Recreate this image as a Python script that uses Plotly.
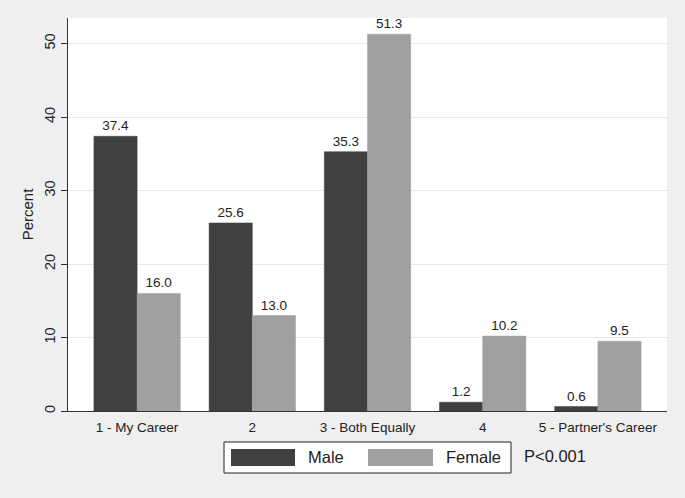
import plotly.graph_objects as go

categories = ["1 - My Career", "2", "3 - Both Equally", "4", "5 - Partner's Career"]
male = [37.4, 25.6, 35.3, 1.2, 0.6]
female = [16.0, 13.0, 51.3, 10.2, 9.5]
series_names = ["Male", "Female"]
colors = ["#404040", "#a0a0a0"]
y_ticks = [0, 10, 20, 30, 40, 50]

fig = go.Figure()
for name, vals, col in zip(series_names, [male, female], colors):
    fig.add_trace(go.Bar(
        x=categories, y=vals, name=name,
        marker=dict(color=col, line=dict(color=col, width=0.5)),
        text=[f"{v:.1f}" for v in vals], textposition="outside",
        textfont=dict(size=13.5, color="#222222"), cliponaxis=False,
        showlegend=False,
    ))

fig.update_layout(
    width=685, height=498,
    margin=dict(l=68, r=18, t=18, b=87),
    paper_bgcolor="#efefef", plot_bgcolor="#ffffff",
    barmode="group", bargap=0.25, bargroupgap=0,
    font=dict(family="Liberation Sans, Arial, sans-serif", size=13, color="#222222"),
)
fig.update_xaxes(
    range=[-0.6, 4.6], showgrid=False, showline=True, linecolor="#333333", linewidth=1.2,
    ticks="", tickfont=dict(size=13.5), zeroline=False, ticklabelstandoff=4,
)
fig.update_yaxes(
    range=[0, 53.5], tickvals=y_ticks, showgrid=True, gridcolor="#e6e6e6", gridwidth=1,
    showline=True, linecolor="#333333", linewidth=1.2, ticks="outside", ticklen=6,
    tickcolor="#333333", tickangle=-90, tickfont=dict(size=14.5), zeroline=False,
    title=dict(text="Percent", font=dict(size=15), standoff=4),
)

# Manual legend (wide swatches in a box) and p-value note
fig.add_shape(type="rect", xref="paper", yref="paper",
              x0=(224-68)/599, x1=(511-68)/599, y0=-(473-411)/393, y1=-(442-411)/393,
              line=dict(color="#222222", width=1), fillcolor="#ffffff")
swatches = [(231, 295, 306), (368, 433, 444)]
for (sx0, sx1, tx), name, col in zip(swatches, series_names, colors):
    fig.add_shape(type="rect", xref="paper", yref="paper",
                  x0=(sx0-68)/599, x1=(sx1-68)/599, y0=-(466-411)/393, y1=-(449-411)/393,
                  line=dict(color=col, width=0), fillcolor=col)
    fig.add_annotation(xref="paper", yref="paper", x=(tx-68)/599, y=-(457-411)/393,
                       text=name, showarrow=False, xanchor="left", yanchor="middle",
                       font=dict(size=16.5, color="#222222"))
fig.add_annotation(xref="paper", yref="paper", x=(522-68)/599, y=-(456-411)/393,
                   text="P<0.001", showarrow=False, xanchor="left", yanchor="middle",
                   font=dict(size=16.5, color="#222222"))

fig.write_html("out.html", config={"displayModeBar": False},
               post_script="document.body.style.margin='0';")
